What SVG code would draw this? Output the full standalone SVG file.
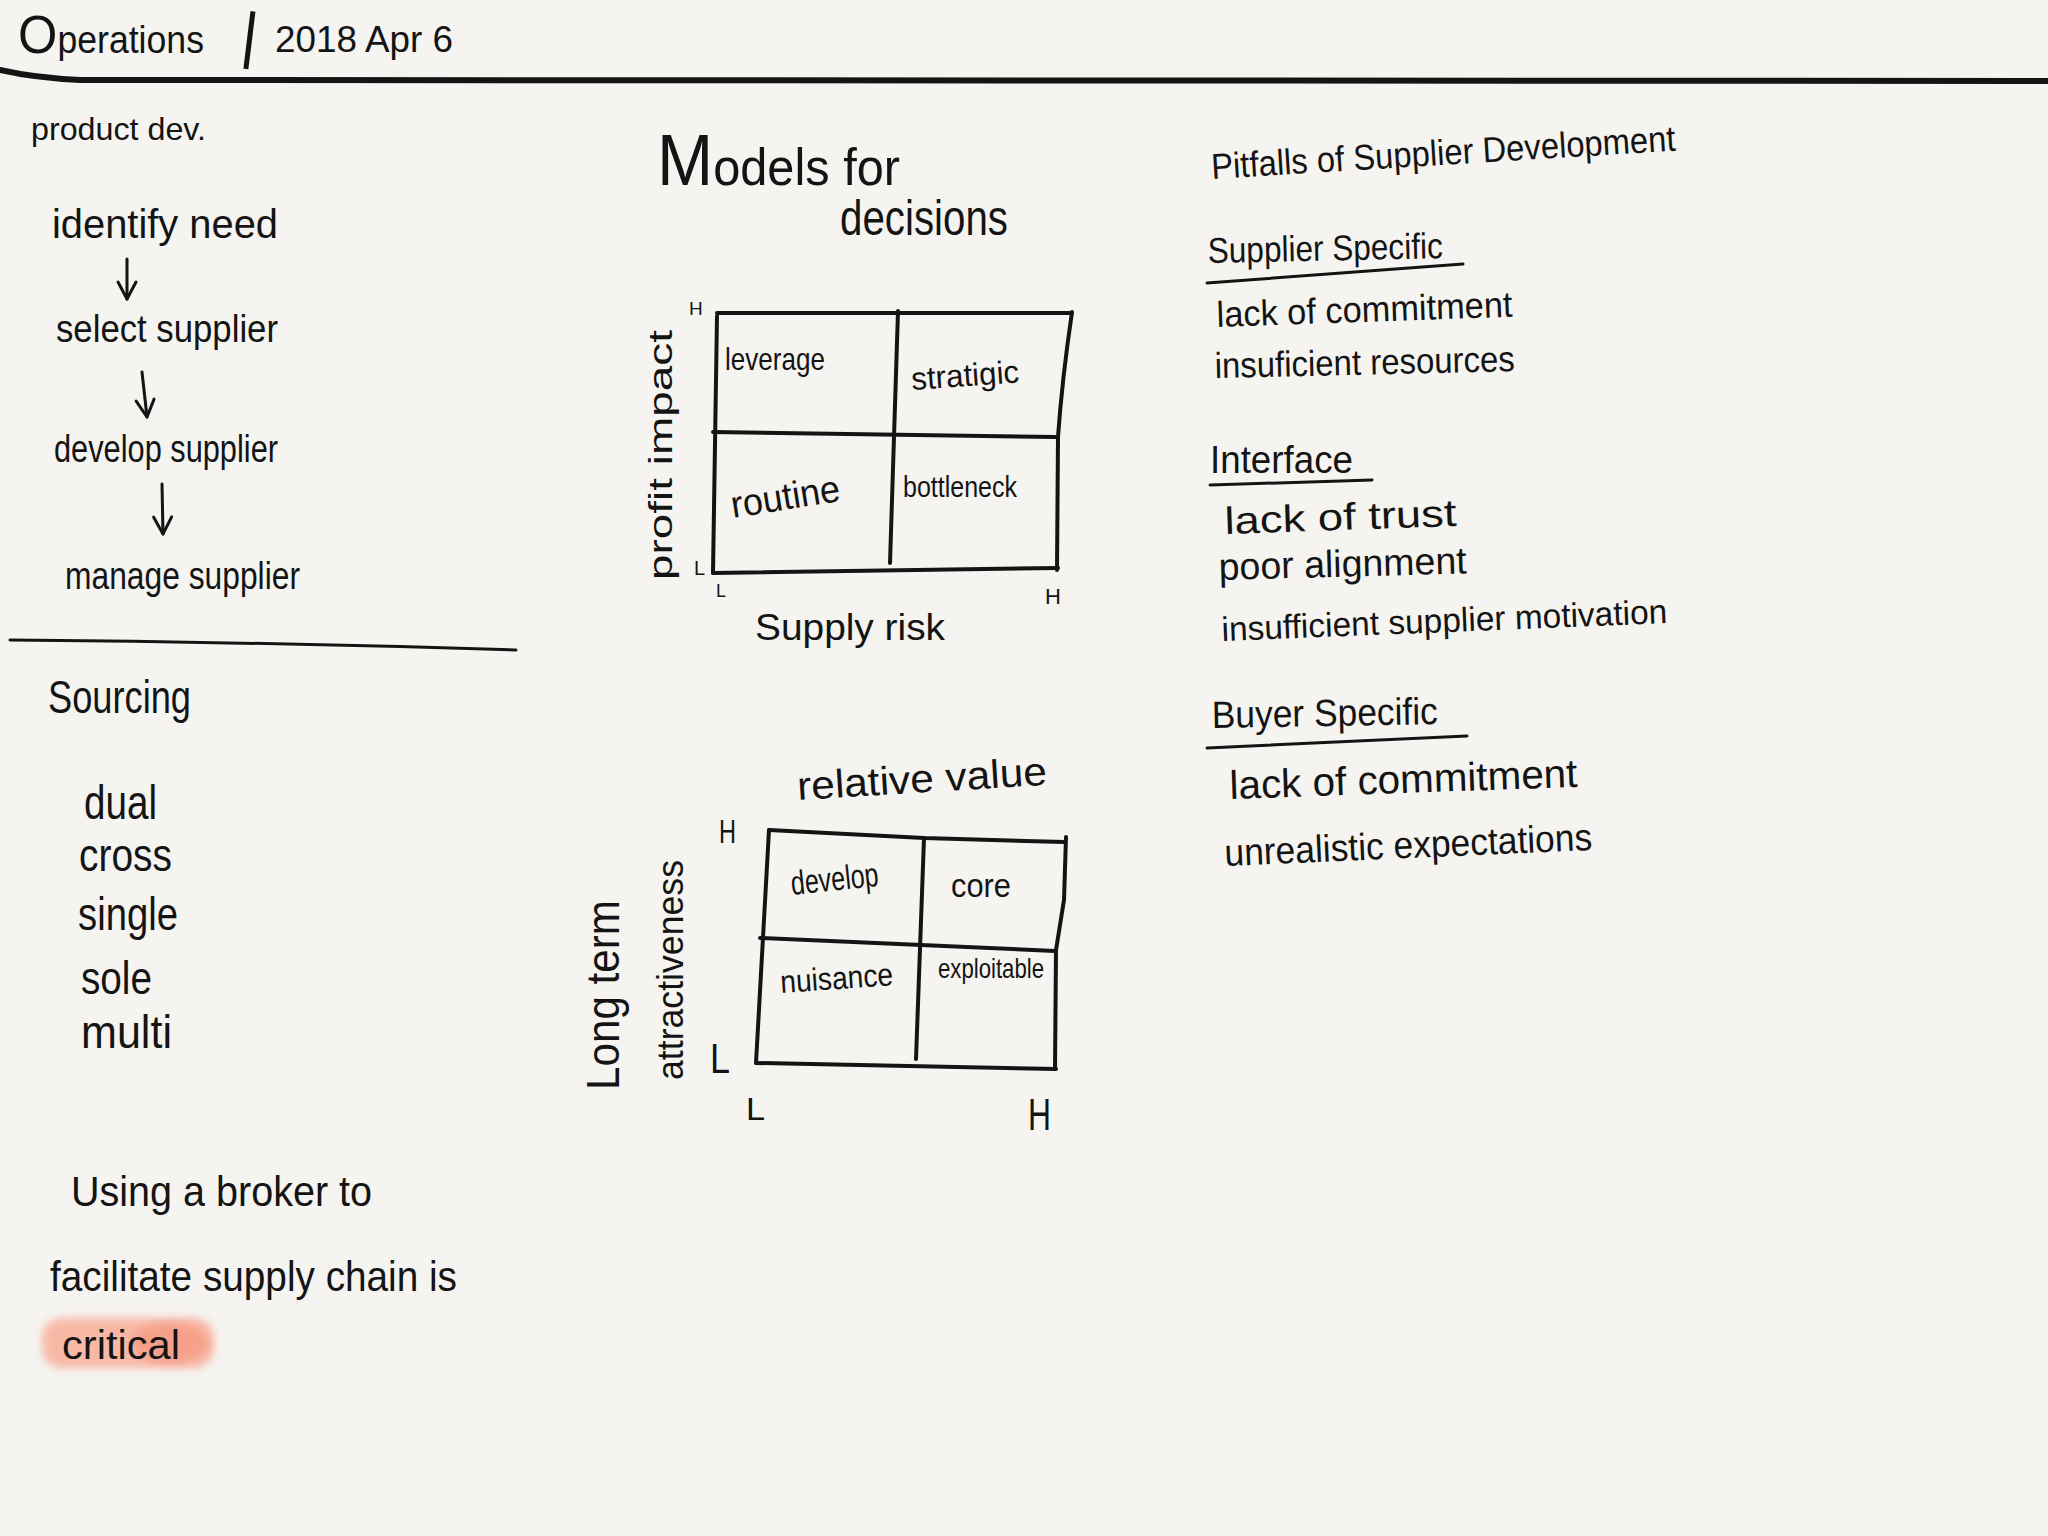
<svg xmlns="http://www.w3.org/2000/svg" width="2048" height="1536" viewBox="0 0 2048 1536">
<defs>
<style>
text{font-family:"Liberation Sans","DejaVu Sans",sans-serif;fill:#141414}
.ink{fill:none;stroke:#141414;stroke-linecap:round;stroke-linejoin:round}
.grid{stroke-width:4}
.ul{stroke-width:3}
.arrow{stroke-width:3}
</style>
<marker id="vhead" markerUnits="userSpaceOnUse" viewBox="0 0 24 24" refX="20" refY="12" markerWidth="24" markerHeight="24" orient="auto">
<path d="M3,3 L20,12 L3,21" fill="none" stroke="#141414" stroke-width="3" stroke-linecap="round" stroke-linejoin="round"/>
</marker>
<filter id="soft" x="-20%" y="-40%" width="140%" height="180%">
<feGaussianBlur stdDeviation="4"/>
</filter>
</defs>
<rect width="2048" height="1536" fill="#f5f4f0"/>

<g id="header">
<path class="ink" d="M0,70 Q35,78 80,80 L2048,81" stroke-width="6"/>
<text x="18" y="53" font-size="38" textLength="186" lengthAdjust="spacingAndGlyphs"><tspan font-size="54">O</tspan>perations</text>
<text x="242" y="56" font-size="62" transform="rotate(7 249 35)">|</text>
<text x="275" y="52" font-size="36" textLength="178" lengthAdjust="spacingAndGlyphs">2018 Apr 6</text>
</g>

<g id="product-dev">
<text x="31" y="140" font-size="32" textLength="175" lengthAdjust="spacingAndGlyphs">product dev.</text>
</g>
<g id="identify-need"><text x="52" y="238" font-size="40" textLength="226" lengthAdjust="spacingAndGlyphs">identify need</text></g>
<g id="select-supplier"><text x="56" y="342" font-size="38" textLength="222" lengthAdjust="spacingAndGlyphs">select supplier</text></g>
<g id="develop-supplier"><text x="54" y="462" font-size="38" textLength="224" lengthAdjust="spacingAndGlyphs">develop supplier</text></g>
<g id="manage-supplier"><text x="65" y="589" font-size="38" textLength="235" lengthAdjust="spacingAndGlyphs">manage supplier</text></g>

<g id="connectors">
<path class="ink arrow" d="M127,259 L127,299" marker-end="url(#vhead)"/>
<path class="ink arrow" d="M142,372 L147,417" marker-end="url(#vhead)"/>
<path class="ink arrow" d="M162,484 L163,534" marker-end="url(#vhead)"/>
</g>

<g id="separator">
<path class="ink" d="M10,640 Q260,642 516,650" stroke-width="3"/>
</g>

<g id="sourcing">
<text x="48" y="713" font-size="46" textLength="143" lengthAdjust="spacingAndGlyphs">Sourcing</text>
<text x="84" y="819" font-size="48" textLength="73" lengthAdjust="spacingAndGlyphs">dual</text>
<text x="79" y="871" font-size="46" textLength="93" lengthAdjust="spacingAndGlyphs">cross</text>
<text x="78" y="930" font-size="46" textLength="100" lengthAdjust="spacingAndGlyphs">single</text>
<text x="81" y="994" font-size="46" textLength="71" lengthAdjust="spacingAndGlyphs">sole</text>
<text x="81" y="1048" font-size="46" textLength="91" lengthAdjust="spacingAndGlyphs">multi</text>
</g>

<g id="broker-note">
<rect x="42" y="1318" width="172" height="50" rx="20" fill="#f8b8a6" filter="url(#soft)"/>
<ellipse cx="170" cy="1343" rx="38" ry="20" fill="#f6a089" filter="url(#soft)"/>
<text x="71" y="1206" font-size="42" textLength="301" lengthAdjust="spacingAndGlyphs">Using a broker to</text>
<text x="50" y="1291" font-size="42" textLength="407" lengthAdjust="spacingAndGlyphs">facilitate supply chain is</text>
<text x="62" y="1359" font-size="40" textLength="118" lengthAdjust="spacingAndGlyphs">critical</text>
</g>

<g id="models-title">
<text x="657" y="185" font-size="52" textLength="243" lengthAdjust="spacingAndGlyphs"><tspan font-size="72">M</tspan>odels for</text>
<text x="840" y="235" font-size="50" textLength="168" lengthAdjust="spacingAndGlyphs">decisions</text>
</g>

<g id="kraljic-matrix">
<path class="ink grid" d="M717,313 L1072,313"/>
<path class="ink grid" d="M1072,312 Q1062,380 1058,437 L1057,570"/>
<path class="ink grid" d="M717,316 L713,573"/>
<path class="ink grid" d="M713,573 L1058,568"/>
<path class="ink grid" d="M713,432 L1056,437"/>
<path class="ink grid" d="M898,311 L890,563"/>
<text x="689" y="315" font-size="19">H</text>
<text x="694" y="575" font-size="20">L</text>
<text x="716" y="597" font-size="18">L</text>
<text x="1045" y="604" font-size="22">H</text>
<text transform="translate(672 580) rotate(-90)" font-size="34" textLength="250" lengthAdjust="spacingAndGlyphs">profit impact</text>
<text x="755" y="640" font-size="36" textLength="190" lengthAdjust="spacingAndGlyphs">Supply risk</text>
<text x="725" y="370" font-size="32" textLength="100" lengthAdjust="spacingAndGlyphs">leverage</text>
<text x="912" y="390" font-size="32" textLength="108" lengthAdjust="spacingAndGlyphs" transform="rotate(-4 912 390)">stratigic</text>
<text x="733" y="518" font-size="38" textLength="110" lengthAdjust="spacingAndGlyphs" transform="rotate(-9 733 518)">routine</text>
<text x="903" y="497" font-size="30" textLength="114" lengthAdjust="spacingAndGlyphs">bottleneck</text>
</g>

<g id="portfolio-matrix">
<path class="ink grid" d="M769,830 L924,838 L1064,842"/>
<path class="ink grid" d="M1066,837 L1064,900 L1056,950 L1055,1069"/>
<path class="ink grid" d="M769,830 L756,1063"/>
<path class="ink grid" d="M756,1063 L1056,1069"/>
<path class="ink grid" d="M760,938 L1055,951"/>
<path class="ink grid" d="M924,838 L916,1059"/>
<text x="798" y="800" font-size="40" textLength="250" lengthAdjust="spacingAndGlyphs" transform="rotate(-3.5 798 800)">relative value</text>
<text x="719" y="843" font-size="34" textLength="17" lengthAdjust="spacingAndGlyphs">H</text>
<text x="710" y="1073" font-size="42" textLength="20" lengthAdjust="spacingAndGlyphs">L</text>
<text x="746" y="1120" font-size="32" textLength="19" lengthAdjust="spacingAndGlyphs">L</text>
<text x="1028" y="1130" font-size="44" textLength="23" lengthAdjust="spacingAndGlyphs">H</text>
<text x="792" y="895" font-size="34" textLength="88" lengthAdjust="spacingAndGlyphs" transform="rotate(-6 792 895)">develop</text>
<text x="951" y="897" font-size="34" textLength="60" lengthAdjust="spacingAndGlyphs">core</text>
<text x="781" y="993" font-size="32" textLength="113" lengthAdjust="spacingAndGlyphs" transform="rotate(-4 781 993)">nuisance</text>
<text x="938" y="978" font-size="28" textLength="106" lengthAdjust="spacingAndGlyphs">exploitable</text>
<text transform="translate(619 1090) rotate(-90)" font-size="46" textLength="190" lengthAdjust="spacingAndGlyphs">Long term</text>
<text transform="translate(683 1080) rotate(-90)" font-size="36" textLength="220" lengthAdjust="spacingAndGlyphs">attractiveness</text>
</g>

<g id="pitfalls-title">
<text x="1212" y="179" font-size="36" textLength="465" lengthAdjust="spacingAndGlyphs" transform="rotate(-3.5 1212 179)">Pitfalls of Supplier Development</text>
</g>

<g id="supplier-specific">
<text x="1208" y="263" font-size="36" textLength="235" lengthAdjust="spacingAndGlyphs" transform="rotate(-1.2 1208 263)">Supplier Specific</text>
<path class="ink ul" d="M1207,283 L1463,264"/>
<text x="1217" y="327" font-size="36" textLength="296" lengthAdjust="spacingAndGlyphs" transform="rotate(-2 1217 327)">lack of commitment</text>
<text x="1215" y="378" font-size="36" textLength="300" lengthAdjust="spacingAndGlyphs" transform="rotate(-1.3 1215 378)">insuficient resources</text>
</g>

<g id="interface">
<text x="1210" y="473" font-size="38" textLength="143" lengthAdjust="spacingAndGlyphs">Interface</text>
<path class="ink ul" d="M1210,485 L1372,480"/>
<text x="1225" y="534" font-size="38" textLength="232" lengthAdjust="spacingAndGlyphs" transform="rotate(-2 1225 534)">lack of trust</text>
<text x="1219" y="580" font-size="38" textLength="248" lengthAdjust="spacingAndGlyphs" transform="rotate(-1.5 1219 580)">poor alignment</text>
<text x="1222" y="641" font-size="34" textLength="446" lengthAdjust="spacingAndGlyphs" transform="rotate(-2.3 1222 641)">insufficient supplier motivation</text>
</g>

<g id="buyer-specific">
<text x="1212" y="728" font-size="38" textLength="226" lengthAdjust="spacingAndGlyphs" transform="rotate(-1 1212 728)">Buyer Specific</text>
<path class="ink ul" d="M1207,748 L1467,736"/>
<text x="1230" y="799" font-size="40" textLength="348" lengthAdjust="spacingAndGlyphs" transform="rotate(-2 1230 799)">lack of commitment</text>
<text x="1225" y="866" font-size="38" textLength="368" lengthAdjust="spacingAndGlyphs" transform="rotate(-2.5 1225 866)">unrealistic expectations</text>
</g>
</svg>
